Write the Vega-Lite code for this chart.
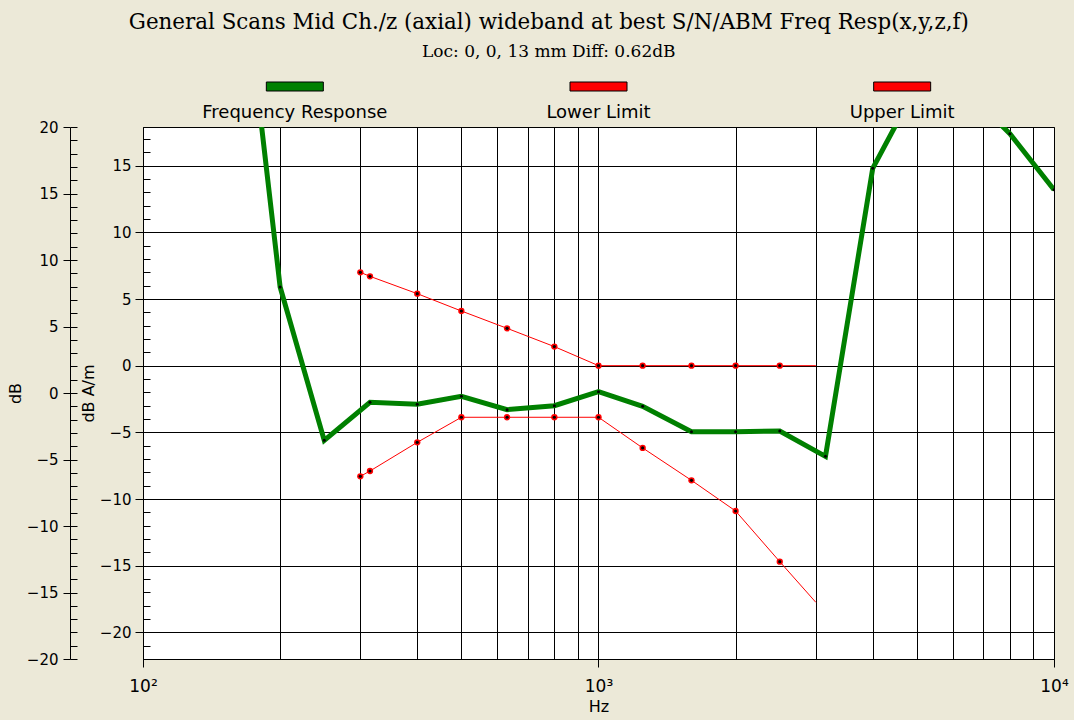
{
  "$schema": "https://vega.github.io/schema/vega-lite/v6.json",
  "background": "#ECE9D8",
  "padding": {"left": 6, "top": 12, "right": 5, "bottom": 5},
  "title": {
    "text": "General Scans Mid Ch./z (axial) wideband at best S/N/ABM Freq Resp(x,y,z,f)",
    "subtitle": "Loc: 0, 0, 13 mm Diff: 0.62dB",
    "font": "DejaVu Serif",
    "fontSize": 21.4,
    "fontWeight": "normal",
    "color": "black",
    "subtitleFont": "DejaVu Serif",
    "subtitleFontSize": 17,
    "subtitleColor": "black",
    "subtitlePadding": 10,
    "anchor": "middle",
    "dx": 11,
    "offset": 22
  },
  "datasets": {
    "legend": [
      {"series": "Frequency Response"},
      {"series": "Lower Limit"},
      {"series": "Upper Limit"}
    ],
    "curves": [
      {"series": "Frequency Response", "f": 160, "db": 34.6},
      {"series": "Frequency Response", "f": 200, "db": 5.9},
      {"series": "Frequency Response", "f": 250, "db": -5.6},
      {"series": "Frequency Response", "f": 315, "db": -2.75},
      {"series": "Frequency Response", "f": 400, "db": -2.9},
      {"series": "Frequency Response", "f": 500, "db": -2.3},
      {"series": "Frequency Response", "f": 630, "db": -3.3},
      {"series": "Frequency Response", "f": 800, "db": -3.0},
      {"series": "Frequency Response", "f": 1000, "db": -1.95},
      {"series": "Frequency Response", "f": 1250, "db": -3.05},
      {"series": "Frequency Response", "f": 1600, "db": -4.95},
      {"series": "Frequency Response", "f": 2000, "db": -4.95},
      {"series": "Frequency Response", "f": 2500, "db": -4.9},
      {"series": "Frequency Response", "f": 3150, "db": -6.8},
      {"series": "Frequency Response", "f": 4000, "db": 14.8},
      {"series": "Frequency Response", "f": 5000, "db": 21.0},
      {"series": "Frequency Response", "f": 6300, "db": 20.9},
      {"series": "Frequency Response", "f": 8000, "db": 17.4},
      {"series": "Frequency Response", "f": 10000, "db": 13.2},
      {"series": "Lower Limit", "f": 300, "db": -8.3},
      {"series": "Lower Limit", "f": 315, "db": -7.9},
      {"series": "Lower Limit", "f": 400, "db": -5.75},
      {"series": "Lower Limit", "f": 500, "db": -3.87},
      {"series": "Lower Limit", "f": 630, "db": -3.87},
      {"series": "Lower Limit", "f": 800, "db": -3.87},
      {"series": "Lower Limit", "f": 1000, "db": -3.87},
      {"series": "Lower Limit", "f": 1250, "db": -6.17},
      {"series": "Lower Limit", "f": 1600, "db": -8.6},
      {"series": "Lower Limit", "f": 2000, "db": -10.9},
      {"series": "Lower Limit", "f": 2500, "db": -14.7},
      {"series": "Lower Limit", "f": 3000, "db": -17.75},
      {"series": "Upper Limit", "f": 300, "db": 7.0},
      {"series": "Upper Limit", "f": 315, "db": 6.7},
      {"series": "Upper Limit", "f": 400, "db": 5.4},
      {"series": "Upper Limit", "f": 500, "db": 4.1},
      {"series": "Upper Limit", "f": 630, "db": 2.8},
      {"series": "Upper Limit", "f": 800, "db": 1.43},
      {"series": "Upper Limit", "f": 1000, "db": 0},
      {"series": "Upper Limit", "f": 1250, "db": 0},
      {"series": "Upper Limit", "f": 1600, "db": 0},
      {"series": "Upper Limit", "f": 2000, "db": 0},
      {"series": "Upper Limit", "f": 2500, "db": 0},
      {"series": "Upper Limit", "f": 3000, "db": 0}
    ]
  },
  "spacing": -2,
  "vconcat": [
    {
      "width": 911,
      "height": 9,
      "view": {"stroke": null},
      "data": {"name": "legend"},
      "mark": {"type": "bar", "width": 57, "stroke": "black", "strokeWidth": 1},
      "encoding": {
        "x": {
          "field": "series", "type": "nominal", "sort": null,
          "scale": {"paddingInner": 0, "paddingOuter": 0},
          "axis": {"orient": "bottom", "title": null, "ticks": false, "domain": false, "labelPadding": 12, "labelFontSize": 18, "labelAngle": 0, "labelColor": "black", "labelFont": "DejaVu Sans", "labelLimit": 0}
        },
        "color": {
          "field": "series", "type": "nominal",
          "scale": {"domain": ["Frequency Response", "Lower Limit", "Upper Limit"], "range": ["#008000", "#ff0000", "#ff0000"]},
          "legend": null
        }
      }
    },
    {
      "width": 911,
      "height": 532,
      "view": {"fill": "white", "stroke": "black", "strokeWidth": 1},
      "data": {"name": "curves"},
      "resolve": {"scale": {"y": "independent"}, "axis": {"x": "independent"}},
      "layer": [
        {
          "mark": {"type": "point", "opacity": 0, "clip": true},
          "encoding": {
            "x": {"field": "f", "type": "quantitative", "scale": {"type": "log", "domain": [100, 10000], "nice": false},
              "axis": {
                "orient": "bottom", "title": null, "labels": false, "ticks": false, "domain": false,
                "values": [100, 200, 300, 400, 500, 600, 700, 800, 900, 1000, 2000, 3000, 4000, 5000, 6000, 7000, 8000, 9000, 10000],
                "grid": true, "gridColor": "black", "gridOpacity": 1, "gridWidth": 1
              }
            },
            "y": {"field": "db", "type": "quantitative", "scale": {"domain": [-22, 17.9], "nice": false, "zero": false},
              "axis": {
                "orient": "left", "title": "dB A/m",
                "values": [-20, -15, -10, -5, 0, 5, 10, 15],
                "grid": true, "gridColor": "black", "gridOpacity": 1, "gridWidth": 1,
                "domainColor": "black", "tickColor": "black", "tickSize": 8,
                "labelFont": "DejaVu Sans", "labelFontSize": 15, "labelColor": "black", "labelPadding": 4,
                "titleFont": "DejaVu Sans", "titleFontSize": 16, "titleFontWeight": "normal", "titleColor": "black", "titlePadding": 3
              }
            }
          }
        },
        {
          "mark": {"type": "point", "opacity": 0, "clip": true},
          "encoding": {
            "x": {"field": "f", "type": "quantitative",
              "axis": {
                "orient": "bottom", "title": "Hz", "grid": false,
                "values": [100, 1000, 10000],
                "domainColor": "black", "tickColor": "black", "tickSize": 8,
                "labelExpr": "datum.value == 100 ? '10²' : datum.value == 1000 ? '10³' : '10⁴'",
                "labelFont": "DejaVu Sans", "labelFontSize": 17, "labelColor": "black", "labelPadding": 11,
                "labelFlush": false, "labelOverlap": false,
                "titleFont": "DejaVu Sans", "titleFontSize": 16, "titleFontWeight": "normal", "titleColor": "black", "titlePadding": 4
              }
            },
            "y": {"field": "db", "type": "quantitative", "scale": {"domain": [-22, 17.9], "nice": false, "zero": false},
              "axis": {
                "orient": "left", "title": null, "labels": false, "domain": false, "grid": false,
                "values": [-22, -21, -20, -19, -18, -17, -16, -15, -14, -13, -12, -11, -10, -9, -8, -7, -6, -5, -4, -3, -2, -1, 0, 1, 2, 3, 4, 5, 6, 7, 8, 9, 10, 11, 12, 13, 14, 15, 16, 17],
                "tickColor": "black", "tickSize": -7
              }
            }
          }
        },
        {
          "mark": {"type": "point", "opacity": 0, "clip": true},
          "encoding": {
            "x": {"field": "f", "type": "quantitative", "axis": null},
            "y": {"field": "db", "type": "quantitative", "scale": {"domain": [-20, 20], "nice": false, "zero": false},
              "axis": {
                "orient": "left", "title": "dB", "offset": 73,
                "values": [-20, -15, -10, -5, 0, 5, 10, 15, 20],
                "grid": false, "domainColor": "black", "tickColor": "black", "tickSize": 7,
                "labelFont": "DejaVu Sans", "labelFontSize": 15, "labelColor": "black", "labelPadding": 5,
                "titleFont": "DejaVu Sans", "titleFontSize": 16, "titleFontWeight": "normal", "titleColor": "black", "titlePadding": 3
              }
            }
          }
        },
        {
          "mark": {"type": "point", "opacity": 0, "clip": true},
          "encoding": {
            "x": {"field": "f", "type": "quantitative", "axis": null},
            "y": {"field": "db", "type": "quantitative", "scale": {"domain": [-20, 20], "nice": false, "zero": false},
              "axis": {
                "orient": "left", "title": null, "labels": false, "domain": false, "grid": false, "offset": 73,
                "values": [-20, -19, -18, -17, -16, -15, -14, -13, -12, -11, -10, -9, -8, -7, -6, -5, -4, -3, -2, -1, 0, 1, 2, 3, 4, 5, 6, 7, 8, 9, 10, 11, 12, 13, 14, 15, 16, 17, 18, 19, 20],
                "tickColor": "black", "tickSize": -7
              }
            }
          }
        },
        {
          "transform": [{"filter": "datum.series != 'Frequency Response'"}],
          "mark": {"type": "line", "strokeWidth": 1, "clip": true},
          "encoding": {
            "x": {"field": "f", "type": "quantitative", "axis": null},
            "y": {"field": "db", "type": "quantitative", "scale": {"domain": [-22, 17.9], "nice": false, "zero": false}, "axis": null},
            "color": {"field": "series", "type": "nominal", "legend": null}
          }
        },
        {
          "transform": [{"filter": "datum.series != 'Frequency Response' && datum.f < 3000"}],
          "mark": {"type": "point", "filled": true, "fill": "#ff0000", "size": 40, "opacity": 1, "clip": true},
          "encoding": {
            "x": {"field": "f", "type": "quantitative", "axis": null},
            "y": {"field": "db", "type": "quantitative", "scale": {"domain": [-22, 17.9], "nice": false, "zero": false}, "axis": null}
          }
        },
        {
          "transform": [{"filter": "datum.series != 'Frequency Response' && datum.f < 3000"}],
          "mark": {"type": "point", "filled": true, "fill": "black", "size": 10, "opacity": 1, "clip": true},
          "encoding": {
            "x": {"field": "f", "type": "quantitative", "axis": null},
            "y": {"field": "db", "type": "quantitative", "scale": {"domain": [-22, 17.9], "nice": false, "zero": false}, "axis": null}
          }
        },
        {
          "transform": [{"filter": "datum.series == 'Frequency Response'"}],
          "mark": {"type": "line", "strokeWidth": 5, "clip": true},
          "encoding": {
            "x": {"field": "f", "type": "quantitative", "axis": null},
            "y": {"field": "db", "type": "quantitative", "scale": {"domain": [-22, 17.9], "nice": false, "zero": false}, "axis": null},
            "color": {"field": "series", "type": "nominal", "legend": null}
          }
        },
        {
          "transform": [{"filter": "datum.series == 'Frequency Response'"}],
          "mark": {"type": "point", "filled": true, "fill": "black", "size": 9, "opacity": 1, "clip": true},
          "encoding": {
            "x": {"field": "f", "type": "quantitative", "axis": null},
            "y": {"field": "db", "type": "quantitative", "scale": {"domain": [-22, 17.9], "nice": false, "zero": false}, "axis": null}
          }
        }
      ]
    }
  ]
}
